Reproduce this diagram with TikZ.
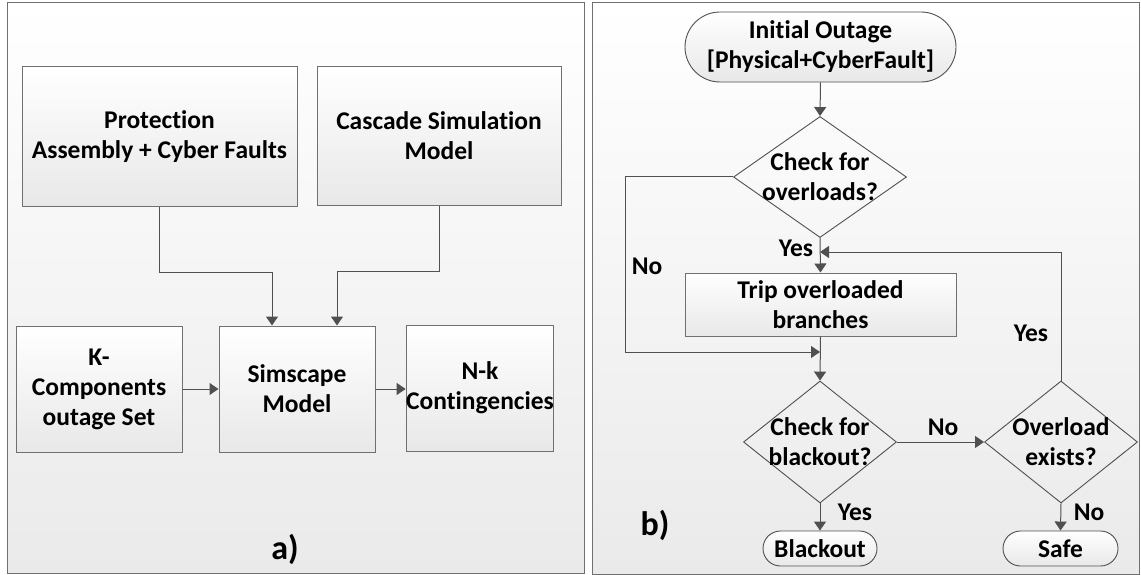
\documentclass[tikz,border=0pt]{standalone}
\usepackage{fontspec}
\setmainfont{Carlito}[Ligatures=NoCommon]
\usetikzlibrary{arrows.meta}
\usetikzlibrary{shapes.geometric,calc}
\definecolor{edgegray}{RGB}{80,80,80}
\definecolor{boxgray}{RGB}{112,112,112}
\definecolor{panelbot}{RGB}{234,234,234}
\definecolor{boxbot}{RGB}{232,232,232}

\begin{document}
\begin{tikzpicture}[x=1pt,y=-1pt,
    every node/.style={font=\fontsize{25.5}{30}\selectfont\bfseries},
    blockbox/.style={draw=boxgray,line width=1pt,top color=white,bottom color=boxbot,
      align=center,inner sep=0pt},
    decision/.style={draw=edgegray,line width=0.9pt,diamond,inner sep=0pt},
    dtext/.style={align=center},
    termbox/.style={draw=edgegray,line width=0.9pt,top color=white,bottom color=boxbot,
      align=center,inner sep=0pt},
    conn/.style={draw=edgegray,line width=1pt,-{Triangle[width=12pt,length=9pt]}},
    flag/.style={font=\fontsize{34}{36}\selectfont\bfseries}]
    \useasboundingbox (0,0) rectangle (1141,575);
    % two panels
    \draw[boxgray,line width=1pt,top color=white,bottom color=panelbot] (7,3) rectangle (584,573);
    \draw[boxgray,line width=1pt,top color=white,bottom color=panelbot] (592,3) rectangle (1139,574);
    % panel a) blocks
    \node[blockbox,minimum width=275pt,minimum height=139pt] (prot) at (159.5,136.5)
      {Protection\\Assembly + Cyber Faults};
    \node[blockbox,minimum width=244pt,minimum height=138pt] (casc) at (439,136)
      {Cascade Simulation\\Model};
    \node[blockbox,minimum width=166pt,minimum height=126pt] (kset) at (99,389)
      {K-\\Components\\outage Set};
    \node[blockbox,minimum width=156pt,minimum height=126pt] (sims) at (297,389)
      {Simscape\\Model};
    \node[blockbox,minimum width=136pt,minimum height=126pt] (nkc) at (480,388)
      {N-k\\Contingencies};
    \draw[conn] (prot.south) -- ++(0,66) -| ([xshift=-25pt]sims.north);
    \draw[conn] (casc.south) -- ++(0,66) -| ([xshift=40pt]sims.north);
    \draw[conn] (kset.east) -- (sims.west);
    \draw[conn] (sims.east) -- (sims.east -| nkc.west);
    \node[flag] (taga) at (285,549) {a)};
    % panel b) flow chart
    \node[termbox,rounded corners=35pt,minimum width=271pt,minimum height=70pt] (init)
      at (820.5,47) {Initial Outage\\{[}Physical+CyberFault{]}};
    \node[decision,minimum width=173pt,minimum height=121pt,
      label={[dtext]center:{Check for\\overloads?}}] (chk1) at (820,177) {};
    \node[blockbox,minimum width=271pt,minimum height=63pt] (trip) at (820.5,304.5)
      {Trip overloaded\\branches};
    \node[decision,minimum width=153pt,minimum height=122pt,
      label={[dtext]center:{Check for\\blackout?}}] (chk2) at (820,442) {};
    \node[decision,minimum width=153pt,minimum height=122pt,
      label={[dtext]center:{Overload\\exists?}}] (ovl) at (1061,442) {};
    \node[termbox,rounded corners=17.5pt,minimum width=114pt,minimum height=35pt] (blk)
      at (820,548.5) {Blackout};
    \node[termbox,rounded corners=17.5pt,minimum width=115pt,minimum height=35pt] (safe)
      at (1060.5,548.5) {Safe};
    \coordinate (merge) at (820,352);
    \coordinate (back) at (820,252);
    \draw[conn] (init.south) -- (chk1.north);
    \draw[conn] (chk1.south) -- (trip.north);
    \draw[conn] (chk1.west) -- ++(-108,0) |- (merge);
    \draw[conn] (trip.south) -- (chk2.north);
    \draw[conn] (chk2.east) -- (ovl.west);
    \draw[conn] (ovl.north) |- (back);
    \draw[conn] (chk2.south) -- (blk.north);
    \draw[conn] (ovl.south) -- (safe.north);
    \node (yes1) at (796,248) {Yes};
    \node (no1) at (647,266) {No};
    \node (no2) at (943,427) {No};
    \node (yes2) at (1031,333) {Yes};
    \node (yes3) at (855,512) {Yes};
    \node (no3) at (1089,512) {No};
    \node[flag] (tagb) at (655,525) {b)};
  \end{tikzpicture}
\end{document}
